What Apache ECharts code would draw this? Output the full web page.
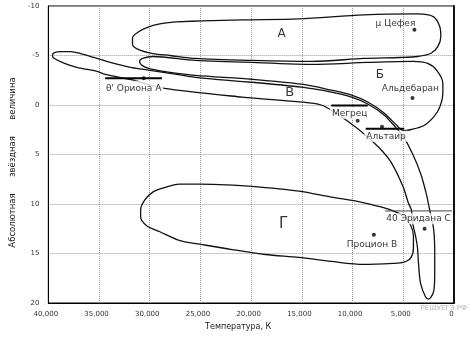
<!DOCTYPE html>
<html><head><meta charset="utf-8">
<script src="https://cdn.jsdelivr.net/npm/echarts@6/dist/echarts.min.js"></script>
<style>html,body{margin:0;padding:0;background:#fff}#c{width:470px;height:338px}</style>
</head><body><div id="c"></div>
<script>
// Region outlines: [temperature K, absolute magnitude]
const regionA = [[27400,-8.4],[24800,-8.5],[20900,-8.6],[15300,-8.7],[8900,-9.1],[3600,-9.2],[2000,-8.9],[1400,-7.9],[1300,-6.9],[1600,-5.9],[2300,-5.2],[3600,-4.9],[5300,-4.8],[8900,-4.7],[14000,-4.4],[19900,-4.5],[25500,-4.7],[28000,-5.0],[29700,-5.2],[31100,-5.6],[31700,-6.1],[31700,-6.8],[31100,-7.4],[30100,-7.9],[29000,-8.2],[27400,-8.4]];
const regionB = [[19900,-4.3],[14000,-4.1],[8500,-4.3],[4000,-4.4],[2600,-4.2],[1700,-3.5],[1100,-2.2],[1100,-1.2],[1400,0.2],[2000,1.2],[3000,2.1],[4300,2.5],[5000,2.6],[5600,2.1],[6900,0.8],[8500,-0.3],[10100,-1.0],[12100,-1.5],[15000,-2.1],[19900,-2.6],[25500,-3.0],[28000,-3.3],[29700,-3.6],[30600,-3.9],[31000,-4.4],[30700,-4.7],[29700,-4.9],[25500,-4.5],[19900,-4.3]];
const regionV = [[19900,-2.3],[15000,-1.8],[12100,-1.3],[10100,-0.8],[8500,-0.1],[6900,1.0],[5800,2.2],[5000,3.2],[4100,4.9],[3300,6.9],[2700,9.1],[2400,10.6],[2100,11.9],[1950,13.2],[1900,15.0],[1900,17.0],[2000,18.8],[2500,19.6],[2800,19.4],[3300,18.0],[3500,16.0],[3600,14.4],[3800,13.2],[4100,11.8],[4200,10.6],[4500,9.9],[5000,8.3],[6200,5.8],[7400,4.3],[8900,2.9],[10400,1.7],[11800,0.7],[13100,0.0],[15000,-0.3],[20900,-0.8],[28700,-1.7],[31600,-2.5],[34400,-3.1],[35200,-3.4],[37200,-3.8],[38400,-4.2],[39400,-4.7],[39600,-5.0],[39400,-5.3],[38700,-5.4],[37800,-5.4],[36800,-5.2],[35500,-4.8],[33900,-4.3],[31900,-3.8],[30600,-3.6],[28000,-3.2],[25500,-2.8],[19900,-2.3]];
const regionG = [[20200,8.2],[15300,8.7],[12100,9.3],[9200,9.8],[7200,10.3],[6000,10.7],[5000,11.2],[4300,12.1],[4000,13.2],[4000,14.5],[4300,15.5],[5000,15.9],[6000,16.0],[8900,16.1],[12100,15.8],[15300,15.4],[18600,15.1],[21900,14.6],[24800,14.1],[27000,13.7],[29000,12.8],[30300,12.2],[30900,11.3],[30900,10.6],[30500,9.6],[29700,8.8],[28700,8.4],[27100,8.0],[25100,8.0],[20200,8.2]];

// Region letters
const regionNames = ['А','Б','В','Г'];
const regionNameT = [17000, 7300, 16200, 16800];
const regionNameM = [-7.2, -3.0, -1.25, 12.0];

// Stars
const starNames = ['μ Цефея','Альдебаран',"θ' Ориона А",'Мегрец','Альтаир','40 Эридана С','Процион В'];
const starTemps = [3900, 4100, 30600, 9500, 7100, 2900, 7900];
const starMags  = [-7.6, -0.7, -2.7, 1.6, 2.2, 12.5, 13.1];

// Label underline bars [T, M]
const barOrion   = [[34400,-2.7],[28800,-2.7]];
const barMegrez  = [[12100,0.05],[8500,0.05]];
const barAltair  = [[8700,2.4],[4900,2.4]];
const barEridani = [[6800,10.7],[200,10.7]];

// ---- styles ----
const FONT = 'DejaVu Sans';
const letterSize = {'А':12,'Б':12,'В':13,'Г':15};
const starLabel = {
  'μ Цефея':      {offset:[-19,-6.5], bg:false},
  'Альдебаран':   {offset:[-2,-9],    bg:false},
  "θ' Ориона А":  {offset:[-10,10],   bg:true, pad:[3,2,3,2]},
  'Мегрец':       {offset:[-8,-7.5],  bg:true, pad:[1,2,1,2]},
  'Альтаир':      {offset:[4,9.5],    bg:true, pad:[1,2,1,2]},
  '40 Эридана С': {offset:[-6,-10],   bg:true, pad:[1,1,1,1]},
  'Процион В':    {offset:[-2,10],    bg:false}
};

const chart = echarts.init(document.getElementById('c'), null, {renderer:'canvas'});
const curve = (d) => ({type:'line', data:d, smooth:0.3, showSymbol:false, silent:true, z:2,
  lineStyle:{color:'#111', width:1.3}});
const bar = (d, w, c) => ({type:'line', data:d, showSymbol:false, silent:true, z:6,
  lineStyle:{color:c, width:w}});

chart.setOption({
  animation:false,
  textStyle:{fontFamily:FONT},
  grid:{left:44, right:16, top:6, bottom:35, show:true, borderColor:'#000', borderWidth:1},
  xAxis:{type:'value', min:0, max:40000, interval:5000, inverse:true,
    name:'Температура, К', nameLocation:'middle', nameGap:20,
    nameTextStyle:{fontFamily:FONT, fontSize:8, color:'#222', padding:[0,26,0,0]},
    axisLine:{onZero:false, lineStyle:{color:'#000', width:1}}, axisTick:{show:false},
    axisLabel:{fontFamily:FONT, fontSize:7, color:'#333', margin:8, padding:[0,5,0,0]},
    splitLine:{show:true, lineStyle:{color:'#999', type:'dotted', width:1}}},
  yAxis:[{type:'value', min:-10, max:20, interval:5, inverse:true,
    name:'Абсолютная      звёздная      величина', nameLocation:'middle', nameGap:30, nameRotate:90,
    nameTextStyle:{fontFamily:FONT, fontSize:8.5, color:'#222', padding:[0,16,0,0]},
    axisLine:{onZero:false, lineStyle:{color:'#000', width:1}}, axisTick:{show:false},
    axisLabel:{fontFamily:FONT, fontSize:7, color:'#333', margin:9},
    splitLine:{show:true, lineStyle:{color:'#999', type:'dotted', width:1}}},
   {type:'value', min:-10, max:20, interval:5, inverse:true, position:'right',
    axisLine:{show:true, onZero:false, lineStyle:{color:'#111', width:2}}, axisTick:{show:false},
    axisLabel:{show:false}, splitLine:{show:false}}],
  graphic:[{type:'text', right:3, top:305, style:{text:'РЕШУЕГЭ.РФ', font:'7px '+FONT, fill:'#b5b5b5'}, z:10}],
  series:[
    curve(regionA), curve(regionB), curve(regionV), curve(regionG),
    bar(barOrion, 2, '#000'), bar(barMegrez, 2, '#000'), bar(barAltair, 2, '#000'), bar(barEridani, 1, '#444'),
    {type:'scatter', z:5, symbolSize:4, itemStyle:{color:'#000'}, silent:true,
      data: starNames.map((n,i)=>{
        const s = starLabel[n];
        return {name:n, value:[starTemps[i], starMags[i]],
          label:{show:true, formatter:n, position:'inside', offset:s.offset, align:'center', verticalAlign:'middle',
            fontFamily:FONT, fontSize:9, color:'#000',
            backgroundColor: s.bg ? '#fff' : 'transparent', padding: s.pad || 0}};
      })},
    {type:'scatter', z:5, symbolSize:0, silent:true,
      data: regionNames.map((n,i)=>({name:n, value:[regionNameT[i], regionNameM[i]],
        label:{show:true, formatter:n, position:'inside', fontFamily:FONT, fontSize:letterSize[n], color:'#000'}}))}
  ]
});
</script></body></html>
